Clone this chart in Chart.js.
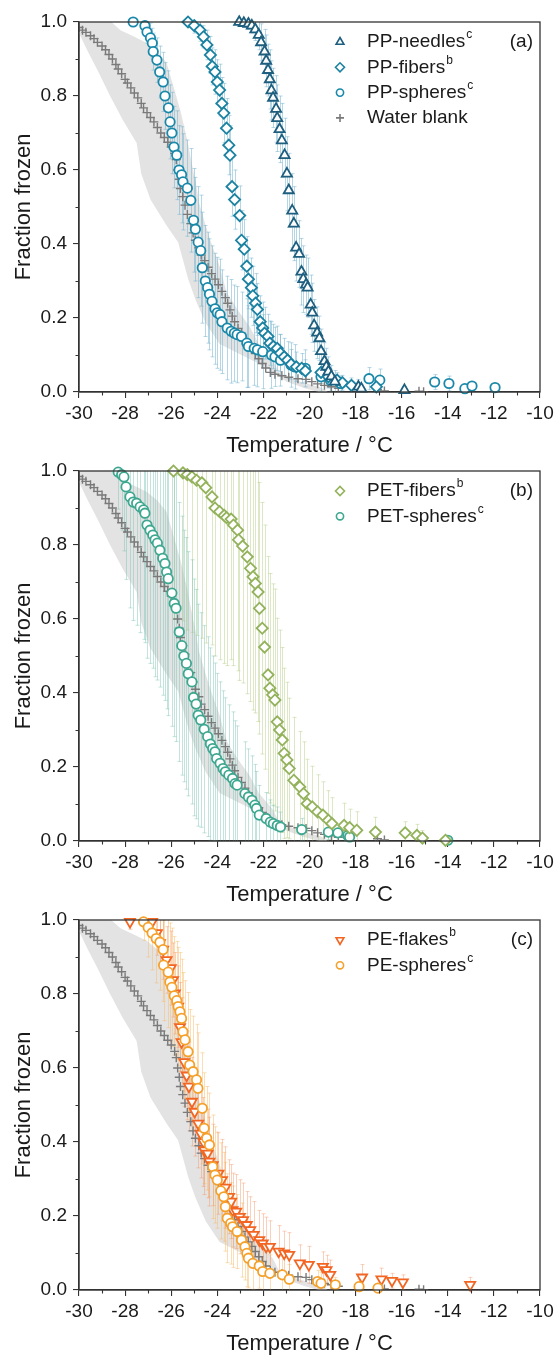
<!DOCTYPE html>
<html>
<head>
<meta charset="utf-8">
<script src="https://cdn.jsdelivr.net/npm/chart.js@4.4.1/dist/chart.umd.min.js"></script>
<style>
  html, body { margin: 0; padding: 0; background: #fff; }
  body { width: 555px; height: 1356px; position: relative; overflow: hidden; }
  .panel { position: absolute; left: 0; width: 555px; }
</style>
</head>
<body>
<div class="panel" style="top:0;height:458px"><canvas id="chartA"></canvas></div>
<div class="panel" style="top:458px;height:449px"><canvas id="chartB"></canvas></div>
<div class="panel" style="top:907px;height:449px"><canvas id="chartC"></canvas></div>
<script>
// axis ticks
const xTicks = [-30, -28, -26, -24, -22, -20, -18, -16, -14, -12, -10];
const yTicks = [0, 0.2, 0.4, 0.6, 0.8, 1.0];

// water blank (same in every panel)
const waterT = [-30.0,-29.85,-29.7,-29.5,-29.35,-29.2,-29.0,-28.85,-28.7,-28.55,-28.4,-28.3,-28.15,-28.0,-27.9,-27.75,-27.6,-27.45,-27.3,-27.2,-27.05,-26.9,-26.75,-26.6,-26.45,-26.3,-26.15,-26.0,-25.85,-25.78,-25.72,-25.65,-25.6,-25.5,-25.4,-25.3,-25.15,-25.05,-24.95,-24.8,-24.7,-24.55,-24.4,-24.25,-24.1,-23.95,-23.8,-23.65,-23.55,-23.45,-23.35,-23.25,-23.1,-22.95,-22.8,-22.65,-22.5,-22.35,-22.2,-22.05,-21.9,-21.7,-21.5,-21.2,-20.9,-20.5,-20.15,-19.9,-19.65,-19.35,-19.05,-18.75,-17.05,-16.75,-15.25,-15.05];
const waterF = [0.985,0.978,0.972,0.963,0.955,0.945,0.935,0.925,0.912,0.9,0.885,0.873,0.86,0.845,0.835,0.822,0.808,0.795,0.78,0.768,0.755,0.742,0.73,0.715,0.7,0.688,0.675,0.662,0.645,0.628,0.6,0.575,0.55,0.528,0.505,0.48,0.455,0.43,0.41,0.39,0.37,0.355,0.337,0.32,0.305,0.29,0.272,0.255,0.24,0.222,0.205,0.19,0.172,0.158,0.143,0.13,0.118,0.104,0.09,0.077,0.065,0.053,0.048,0.044,0.04,0.036,0.034,0.028,0.022,0.018,0.014,0.01,0.006,0.003,0.002,0.001];

// grey uncertainty band of the water blank: warm edge top->bottom, cold edge bottom->top
const bandWarmT = [-30,-28.6,-28.2,-27.6,-27.05,-26.6,-26.2,-25.9,-25.6,-25.3,-25.05,-24.9,-24.8,-24.55,-24.3,-23.9,-23.6,-23.1,-22.6,-22.2,-21.6,-21.3,-20.5,-19.5,-19.2];
const bandWarmF = [1.0,1.0,0.978,0.96,0.943,0.92,0.89,0.825,0.76,0.68,0.6,0.555,0.514,0.46,0.41,0.34,0.27,0.22,0.177,0.13,0.086,0.05,0.03,0.012,0];
const bandColdT = [-19.6,-20.2,-21.0,-21.7,-22.3,-22.95,-23.9,-24.5,-24.95,-25.26,-25.7,-26.2,-26.9,-27.3,-27.5,-28.1,-28.65,-29.2,-29.65,-30];
const bandColdF = [0,0.01,0.028,0.06,0.08,0.1,0.13,0.186,0.25,0.305,0.405,0.45,0.52,0.59,0.673,0.735,0.8,0.87,0.924,0.97];

// (a) PP
const ppNeedlesT = [-23.05,-22.85,-22.65,-22.5,-22.35,-22.2,-22.1,-21.95,-21.88,-21.8,-21.72,-21.65,-21.58,-21.45,-21.4,-21.3,-21.2,-21.08,-20.98,-20.9,-20.75,-20.68,-20.58,-20.45,-20.35,-20.27,-20.15,-20.08,-19.95,-19.88,-19.8,-19.67,-19.57,-19.5,-19.35,-19.27,-19.18,-19.05,-18.9,-17.88,-17.75,-15.88];
const ppNeedlesF = [1.0,0.997,0.995,0.99,0.98,0.965,0.945,0.92,0.895,0.87,0.845,0.815,0.795,0.765,0.74,0.71,0.68,0.64,0.59,0.545,0.49,0.455,0.39,0.373,0.325,0.305,0.29,0.282,0.236,0.214,0.18,0.16,0.145,0.11,0.083,0.068,0.055,0.042,0.028,0.014,0.009,0.005];
const ppNeedlesErr = [0.01,0.01,0.015,0.02,0.03,0.04,0.05,0.06,0.07,0.07,0.08,0.08,0.08,0.09,0.09,0.09,0.1,0.1,0.1,0.1,0.1,0.1,0.09,0.09,0.09,0.09,0.08,0.08,0.08,0.08,0.07,0.07,0.06,0.06,0.05,0.05,0.04,0.03,0.03,0.02,0.01,0.01];

const ppFibersT = [-25.27,-25.0,-24.75,-24.6,-24.45,-24.3,-24.22,-24.1,-24.0,-23.9,-23.8,-23.72,-23.6,-23.5,-23.45,-23.36,-23.25,-23.03,-22.95,-22.83,-22.72,-22.65,-22.52,-22.46,-22.34,-22.26,-22.14,-22.03,-21.95,-21.8,-21.72,-21.57,-21.4,-21.26,-21.1,-20.95,-20.8,-20.57,-20.34,-20.18,-19.5,-19.18,-18.8,-18.57,-18.18,-17.1];
const ppFibersF = [1.0,0.99,0.978,0.96,0.938,0.911,0.88,0.865,0.838,0.816,0.78,0.754,0.713,0.667,0.64,0.555,0.52,0.477,0.41,0.386,0.34,0.305,0.282,0.26,0.24,0.223,0.19,0.173,0.159,0.15,0.132,0.123,0.118,0.105,0.095,0.086,0.075,0.068,0.064,0.057,0.053,0.041,0.032,0.025,0.018,0.014];
const ppFibersErr = [0.01,0.02,0.03,0.03,0.04,0.05,0.05,0.06,0.06,0.07,0.07,0.08,0.08,0.08,0.08,0.08,0.08,0.08,0.08,0.08,0.08,0.08,0.08,0.08,0.08,0.07,0.07,0.07,0.07,0.06,0.06,0.06,0.06,0.05,0.05,0.05,0.04,0.04,0.04,0.03,0.03,0.03,0.02,0.02,0.02,0.01];

const ppSpheresT = [-27.65,-27.14,-27.05,-26.9,-26.82,-26.78,-26.62,-26.5,-26.35,-26.27,-26.12,-26.05,-25.97,-25.88,-25.76,-25.66,-25.55,-25.49,-25.3,-25.15,-25.03,-24.95,-24.83,-24.72,-24.65,-24.52,-24.42,-24.34,-24.23,-24.1,-24.0,-23.88,-23.8,-23.57,-23.4,-23.26,-23.14,-22.95,-22.72,-22.65,-22.4,-22.26,-22.03,-21.65,-21.5,-21.26,-20.8,-20.65,-20.18,-19.5,-19.1,-18.65,-17.42,-16.95,-14.57,-13.95,-13.26,-12.95,-11.95];
const ppSpheresF = [1.0,0.99,0.973,0.957,0.943,0.92,0.897,0.865,0.838,0.8,0.768,0.73,0.70,0.662,0.64,0.60,0.587,0.568,0.551,0.518,0.464,0.44,0.405,0.382,0.336,0.30,0.282,0.264,0.245,0.225,0.214,0.209,0.19,0.173,0.164,0.159,0.155,0.15,0.132,0.123,0.118,0.114,0.109,0.1,0.095,0.086,0.073,0.068,0.064,0.041,0.032,0.023,0.036,0.032,0.027,0.023,0.009,0.016,0.012];
const ppSpheresErr = [0.01,0.02,0.03,0.04,0.04,0.05,0.06,0.07,0.08,0.09,0.1,0.1,0.11,0.11,0.12,0.12,0.13,0.13,0.13,0.14,0.14,0.14,0.15,0.15,0.15,0.15,0.15,0.15,0.15,0.15,0.15,0.15,0.14,0.14,0.14,0.13,0.13,0.12,0.12,0.11,0.1,0.1,0.1,0.09,0.08,0.07,0.06,0.06,0.05,0.04,0.03,0.02,0.03,0.03,0.02,0.02,0.01,0.01,0.01];

// (b) PET
const petFibersT = [-25.9,-25.49,-25.3,-25.1,-24.9,-24.67,-24.5,-24.23,-24.1,-23.9,-23.7,-23.6,-23.4,-23.3,-23.12,-23.08,-22.9,-22.7,-22.56,-22.45,-22.35,-22.23,-22.17,-22.05,-21.95,-21.8,-21.72,-21.6,-21.5,-21.4,-21.3,-21.18,-21.1,-20.98,-20.88,-20.68,-20.42,-20.26,-20.1,-19.88,-19.65,-19.42,-19.18,-19.03,-18.5,-18.26,-17.95,-17.14,-15.85,-15.34,-15.1,-14.1];
const petFibersF = [1.0,0.995,0.99,0.984,0.975,0.968,0.955,0.93,0.9,0.89,0.88,0.874,0.87,0.854,0.84,0.814,0.797,0.768,0.737,0.714,0.696,0.673,0.629,0.575,0.524,0.449,0.413,0.395,0.381,0.322,0.3,0.273,0.237,0.219,0.196,0.164,0.146,0.128,0.101,0.092,0.079,0.07,0.056,0.047,0.042,0.036,0.029,0.024,0.022,0.015,0.008,0.002];
const petFibersErr = [0.4,0.4,0.42,0.42,0.42,0.42,0.42,0.4,0.4,0.4,0.4,0.4,0.38,0.38,0.38,0.38,0.37,0.37,0.36,0.36,0.35,0.35,0.34,0.34,0.33,0.32,0.31,0.3,0.3,0.28,0.27,0.25,0.23,0.21,0.19,0.17,0.15,0.14,0.12,0.11,0.1,0.09,0.08,0.07,0.06,0.05,0.05,0.04,0.03,0.03,0.02,0.01];

const petSpheresT = [-28.3,-28.15,-28.05,-27.96,-27.79,-27.65,-27.5,-27.35,-27.2,-27.14,-27.05,-26.92,-26.8,-26.7,-26.6,-26.49,-26.37,-26.27,-26.2,-26.13,-25.97,-25.87,-25.79,-25.65,-25.54,-25.45,-25.34,-25.26,-25.1,-25.03,-24.92,-24.83,-24.72,-24.57,-24.42,-24.3,-24.2,-24.1,-24.03,-23.88,-23.75,-23.65,-23.5,-23.34,-23.23,-23.14,-22.8,-22.65,-22.5,-22.37,-22.3,-22.18,-21.88,-21.7,-21.57,-21.4,-21.26,-20.34,-19.18,-18.77,-18.34,-18.26,-14.0];
const petSpheresF = [0.997,0.99,0.984,0.957,0.93,0.916,0.913,0.903,0.895,0.886,0.854,0.84,0.827,0.814,0.805,0.786,0.764,0.75,0.727,0.709,0.67,0.642,0.629,0.565,0.528,0.5,0.48,0.452,0.43,0.388,0.37,0.34,0.327,0.302,0.282,0.262,0.25,0.241,0.223,0.21,0.196,0.187,0.178,0.169,0.155,0.151,0.128,0.119,0.11,0.097,0.088,0.07,0.061,0.051,0.047,0.042,0.038,0.031,0.024,0.022,0.015,0.011,0.002];
const petSpheresErr = [0.1,0.15,0.2,0.25,0.3,0.32,0.33,0.34,0.35,0.35,0.36,0.36,0.36,0.37,0.37,0.37,0.37,0.37,0.37,0.37,0.36,0.36,0.36,0.35,0.35,0.34,0.34,0.33,0.33,0.32,0.31,0.3,0.29,0.28,0.27,0.26,0.25,0.24,0.23,0.22,0.21,0.2,0.19,0.18,0.17,0.16,0.14,0.13,0.12,0.11,0.1,0.08,0.07,0.06,0.05,0.05,0.04,0.03,0.02,0.02,0.02,0.01,0.01];

// (c) PE
const peFlakesT = [-27.79,-26.83,-26.62,-26.49,-26.35,-26.2,-26.02,-25.92,-25.84,-25.7,-25.62,-25.55,-25.43,-25.33,-25.23,-25.1,-24.98,-24.83,-24.72,-24.6,-24.57,-24.42,-24.34,-24.2,-23.95,-23.8,-23.65,-23.49,-23.4,-23.34,-23.18,-23.03,-22.88,-22.72,-22.57,-22.42,-22.18,-22.03,-21.88,-21.72,-21.34,-21.1,-20.88,-20.42,-20.03,-19.42,-19.26,-19.1,-17.72,-16.88,-16.42,-15.95,-13.03];
const peFlakesF = [0.995,0.995,0.965,0.938,0.92,0.892,0.87,0.838,0.802,0.766,0.711,0.67,0.616,0.58,0.55,0.509,0.482,0.45,0.423,0.40,0.378,0.369,0.347,0.338,0.315,0.297,0.277,0.252,0.239,0.216,0.212,0.198,0.189,0.176,0.162,0.149,0.135,0.126,0.117,0.117,0.104,0.099,0.095,0.072,0.068,0.063,0.054,0.041,0.034,0.029,0.025,0.021,0.014];
const peFlakesErr = [0.02,0.04,0.06,0.07,0.08,0.09,0.1,0.1,0.11,0.11,0.12,0.12,0.12,0.12,0.12,0.12,0.12,0.12,0.12,0.12,0.12,0.12,0.12,0.11,0.11,0.11,0.11,0.1,0.1,0.1,0.1,0.1,0.1,0.09,0.09,0.09,0.08,0.08,0.08,0.07,0.07,0.06,0.06,0.05,0.05,0.04,0.04,0.04,0.035,0.03,0.02,0.02,0.02];

const peSpheresT = [-27.2,-27.0,-26.83,-26.65,-26.49,-26.35,-26.33,-26.13,-26.06,-25.97,-25.87,-25.76,-25.7,-25.62,-25.55,-25.49,-25.4,-25.27,-25.2,-25.05,-24.9,-24.84,-24.65,-24.57,-24.46,-24.34,-24.2,-24.1,-24.0,-23.85,-23.72,-23.65,-23.57,-23.42,-23.34,-23.14,-22.95,-22.8,-22.72,-22.65,-22.46,-22.18,-22.03,-21.72,-21.18,-20.88,-19.65,-19.5,-18.88,-17.85,-17.03];
const peSpheresF = [0.995,0.98,0.965,0.95,0.94,0.92,0.878,0.859,0.832,0.818,0.795,0.782,0.766,0.752,0.734,0.698,0.676,0.644,0.608,0.59,0.568,0.545,0.491,0.437,0.41,0.392,0.333,0.311,0.297,0.268,0.252,0.225,0.194,0.18,0.171,0.158,0.135,0.117,0.099,0.086,0.072,0.065,0.05,0.045,0.041,0.029,0.023,0.018,0.014,0.009,0.005];
const peSpheresErr = [0.05,0.08,0.1,0.12,0.13,0.14,0.15,0.15,0.16,0.16,0.16,0.16,0.16,0.16,0.16,0.16,0.16,0.16,0.15,0.15,0.15,0.15,0.15,0.15,0.14,0.14,0.14,0.13,0.13,0.13,0.12,0.12,0.12,0.11,0.11,0.1,0.1,0.09,0.09,0.08,0.07,0.06,0.06,0.05,0.05,0.04,0.03,0.03,0.02,0.02,0.01];

const FONT = '"Liberation Sans", Arial, Helvetica, sans-serif';
const AXIS_COLOR = '#333333';
Chart.defaults.font.family = FONT;
Chart.defaults.color = '#1a1a1a';

const toPoints = (T, F) => T.map((t, i) => ({x: t, y: F[i]}));

function series(T, F, err, style, color, barColor, radius, rotation) {
  return {
    data: toPoints(T, F),
    errors: err,
    errorColor: barColor,
    pointStyle: style,
    rotation: rotation || 0,
    pointRadius: radius,
    pointBorderWidth: 1.8,
    borderColor: color,
    backgroundColor: '#ffffff',
    showLine: false,
    clip: false,
  };
}

function waterSeries() {
  return {
    data: toPoints(waterT, waterF),
    pointStyle: 'cross',
    pointRadius: 4.5,
    pointBorderWidth: 1.4,
    borderColor: '#7a7a7a',
    backgroundColor: '#7a7a7a',
    showLine: false,
  };
}

function bandSeries() {
  const warm = toPoints(bandWarmT, bandWarmF);
  const cold = toPoints(bandColdT, bandColdF);
  return {
    isBand: true,
    data: warm.concat(cold),
    showLine: true,
    borderWidth: 0,
    borderColor: 'rgba(0,0,0,0)',
    backgroundColor: '#e3e3e3',
    pointRadius: 0,
    fill: 'shape',
    tension: 0,
  };
}

// error bars go on top of the grey band but under every marker
const errorBars = {
  id: 'errorBars',
  afterDatasetDraw(chart, args) {
    if (!chart.data.datasets[args.index].isBand) return;
    const {ctx, chartArea: a, scales: {y}} = chart;
    ctx.save();
    ctx.beginPath();
    ctx.rect(a.left, a.top, a.width, a.height);
    ctx.clip();
    chart.data.datasets.forEach((ds, i) => {
      if (!ds.errors) return;
      const meta = chart.getDatasetMeta(i);
      ctx.strokeStyle = ds.errorColor;
      ctx.lineWidth = 1;
      meta.data.forEach((pt, j) => {
        const v = ds.data[j].y, e = ds.errors[j];
        const top = y.getPixelForValue(v + e);
        const bot = y.getPixelForValue(v - e);
        const x = Math.round(pt.x) + 0.5;
        ctx.beginPath();
        ctx.moveTo(x, top); ctx.lineTo(x, bot);
        ctx.moveTo(x - 2, top); ctx.lineTo(x + 2, top);
        ctx.moveTo(x - 2, bot); ctx.lineTo(x + 2, bot);
        ctx.stroke();
      });
    });
    ctx.restore();
  }
};

// box around the plot plus the minor ticks
const frame = {
  id: 'frame',
  afterDraw(chart) {
    const {ctx, chartArea: a, scales: {x, y}} = chart;
    ctx.save();
    ctx.strokeStyle = AXIS_COLOR;
    ctx.lineWidth = 1.3;
    ctx.strokeRect(a.left, a.top, a.width, a.height);
    ctx.lineWidth = 1.1;
    ctx.beginPath();
    for (let i = 0; i < xTicks.length - 1; i++) {
      const px = Math.round(x.getPixelForValue((xTicks[i] + xTicks[i + 1]) / 2)) + 0.5;
      ctx.moveTo(px, a.bottom); ctx.lineTo(px, a.bottom + 3.5);
    }
    for (let i = 0; i < yTicks.length - 1; i++) {
      const py = Math.round(y.getPixelForValue((yTicks[i] + yTicks[i + 1]) / 2)) + 0.5;
      ctx.moveTo(a.left, py); ctx.lineTo(a.left - 3.5, py);
    }
    ctx.stroke();
    ctx.restore();
  }
};

const legendBox = {
  id: 'legendBox',
  afterDraw(chart, args, opts) {
    const {ctx, chartArea: a} = chart;
    ctx.save();
    ctx.textBaseline = 'middle';
    opts.items.forEach((it, i) => {
      const yy = a.top + 20 + i * 25.3;
      ctx.strokeStyle = it.color;
      ctx.fillStyle = '#ffffff';
      ctx.lineWidth = 1.6;
      Chart.helpers.drawPoint(ctx, {pointStyle: it.style, radius: it.r, rotation: it.rotation || 0, borderWidth: 1.6}, 340, yy);
      ctx.fillStyle = '#1a1a1a';
      ctx.textAlign = 'left';
      ctx.font = '19px ' + FONT;
      ctx.fillText(it.label, 367, yy);
      if (it.sup) {
        const w = ctx.measureText(it.label).width;
        ctx.font = '12px ' + FONT;
        ctx.fillText(it.sup, 367 + w + 1, yy - 7);
      }
    });
    ctx.font = '19px ' + FONT;
    ctx.textAlign = 'right';
    ctx.fillStyle = '#1a1a1a';
    ctx.fillText(opts.tag, 533, a.top + 20);
    ctx.restore();
  }
};

function makeChart(id, topPad, datasets, items, tag) {
  return new Chart(document.getElementById(id), {
    type: 'scatter',
    data: {datasets},
    plugins: [errorBars, frame, legendBox],
    options: {
      responsive: true,
      maintainAspectRatio: false,
      animation: false,
      layout: {autoPadding: false, padding: {top: topPad, right: 15, bottom: 0, left: 0}},
      plugins: {
        legend: {display: false},
        tooltip: {enabled: false},
        legendBox: {items, tag},
      },
      scales: {
        x: {
          type: 'linear',
          position: 'bottom',
          min: -30,
          max: -10,
          afterBuildTicks: (s) => { s.ticks = xTicks.map((v) => ({value: v})); },
          afterFit: (s) => {
            s.height = 66;
            s.paddingLeft = s.paddingRight = s.paddingTop = s.paddingBottom = 0;
          },
          ticks: {font: {size: 19}, color: '#1a1a1a', padding: 4, maxRotation: 0, callback: (v) => String(v)},
          grid: {drawOnChartArea: false, drawTicks: true, tickLength: 6, color: AXIS_COLOR, lineWidth: 1.1},
          border: {display: true, color: AXIS_COLOR, width: 1.3},
          title: {display: true, text: 'Temperature / °C', font: {size: 22, lineHeight: 1}, color: '#1a1a1a', padding: {top: 0, bottom: 1}},
        },
        y: {
          type: 'linear',
          min: 0,
          max: 1,
          afterBuildTicks: (s) => { s.ticks = yTicks.map((v) => ({value: v})); },
          afterFit: (s) => {
            s.width = 79;
            s.paddingLeft = s.paddingRight = s.paddingTop = s.paddingBottom = 0;
          },
          ticks: {font: {size: 19}, color: '#1a1a1a', padding: 6, callback: (v) => Number(v).toFixed(1)},
          grid: {drawOnChartArea: false, drawTicks: true, tickLength: 6, color: AXIS_COLOR, lineWidth: 1.1},
          border: {display: true, color: AXIS_COLOR, width: 1.3},
          title: {display: true, text: 'Fraction frozen', font: {size: 22, lineHeight: 1}, color: '#1a1a1a', padding: {top: 13, bottom: 0}},
        },
      },
    },
  });
}

const PP_BAR = 'rgba(120,180,208,0.55)';

makeChart('chartA', 22, [
  series(ppNeedlesT, ppNeedlesF, ppNeedlesErr, 'triangle', '#1e5e7e', PP_BAR, 5.8),
  series(ppFibersT, ppFibersF, ppFibersErr, 'rectRot', '#1b82a2', PP_BAR, 5.6),
  series(ppSpheresT, ppSpheresF, ppSpheresErr, 'circle', '#1a88a9', PP_BAR, 4.7),
  waterSeries(),
  bandSeries(),
], [
  {label: 'PP-needles', sup: 'c', style: 'triangle', r: 4.5, color: '#1e5e7e'},
  {label: 'PP-fibers', sup: 'b', style: 'rectRot', r: 4.5, color: '#1b82a2'},
  {label: 'PP-spheres', sup: 'c', style: 'circle', r: 3.6, color: '#1a88a9'},
  {label: 'Water blank', style: 'cross', r: 4, color: '#7a7a7a'},
], '(a)');

makeChart('chartB', 13, [
  series(petFibersT, petFibersF, petFibersErr, 'rectRot', '#93b25b', 'rgba(185,208,140,0.5)', 5.6),
  series(petSpheresT, petSpheresF, petSpheresErr, 'circle', '#3ea790', 'rgba(120,196,178,0.45)', 4.7),
  waterSeries(),
  bandSeries(),
], [
  {label: 'PET-fibers', sup: 'b', style: 'rectRot', r: 4.5, color: '#93b25b'},
  {label: 'PET-spheres', sup: 'c', style: 'circle', r: 3.6, color: '#3ea790'},
], '(b)');

makeChart('chartC', 13, [
  series(peSpheresT, peSpheresF, peSpheresErr, 'circle', '#f4a12c', 'rgba(248,190,110,0.5)', 4.7),
  series(peFlakesT, peFlakesF, peFlakesErr, 'triangle', '#f26522', 'rgba(245,150,105,0.45)', 5.8, 180),
  waterSeries(),
  bandSeries(),
], [
  {label: 'PE-flakes', sup: 'b', style: 'triangle', r: 4.5, rotation: 180, color: '#f26522'},
  {label: 'PE-spheres', sup: 'c', style: 'circle', r: 3.6, color: '#f4a12c'},
], '(c)');
</script>
</body>
</html>
